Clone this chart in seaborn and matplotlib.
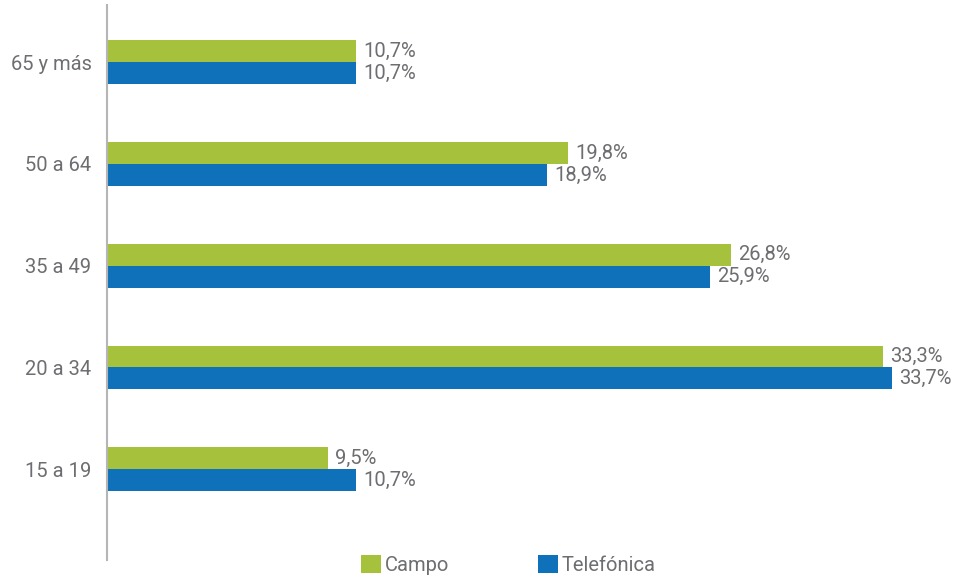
import matplotlib
matplotlib.use("Agg")
import matplotlib.pyplot as plt
import seaborn as sns
import pandas as pd
from matplotlib.patches import Patch

categories = ["65 y más", "50 a 64", "35 a 49", "20 a 34", "15 a 19"]
series = ["Campo", "Telefónica"]
campo = [10.7, 19.8, 26.8, 33.3, 9.5]
telefonica = [10.7, 18.9, 25.9, 33.7, 10.7]
colors = ["#a6c23c", "#0f71b9"]

df = pd.DataFrame({
    "cat": categories * 2,
    "serie": [series[0]] * len(categories) + [series[1]] * len(categories),
    "valor": campo + telefonica,
})

sns.set_theme(style="white")
plt.rcParams["font.family"] = ["Roboto", "DejaVu Sans"]
text_color = "#6d6e71"
fs = 14.5

fig = plt.figure(figsize=(9.61, 5.79), dpi=100)
ax = fig.add_axes([0.111, 0.0328, 0.889, 0.958])

sns.barplot(data=df, y="cat", x="valor", hue="serie", order=categories,
            hue_order=series, palette=colors, orient="h", width=0.43,
            ax=ax, legend=False, saturation=1, linewidth=0)

for cont in ax.containers:
    labels = [f"{b.get_width():.1f}".replace(".", ",") + "%" for b in cont]
    ax.bar_label(cont, labels=labels, padding=5, color=text_color, fontsize=fs)

ax.set_xlim(0, 36.65)
ax.set_ylim(4.894, -0.56)
ax.set_xlabel("")
ax.set_ylabel("")
ax.set_xticks([])
for s in ["top", "right", "bottom"]:
    ax.spines[s].set_visible(False)
ax.spines["left"].set_color("#b5b5b5")
ax.spines["left"].set_linewidth(1.5)
ax.tick_params(axis="y", length=0, pad=11, labelsize=fs, labelcolor=text_color)
for lbl in ax.get_yticklabels():
    lbl.set_verticalalignment("center_baseline")

handles = [Patch(facecolor=c, edgecolor="none") for c in colors]
fig.legend(handles, series, loc="center", bbox_to_anchor=(0.529, 0.024), ncol=2,
           frameon=False, fontsize=fs, labelcolor=text_color, handlelength=1.0,
           handleheight=1.0, handletextpad=0.2, columnspacing=4.4)

fig.savefig("out.png", dpi=100)
